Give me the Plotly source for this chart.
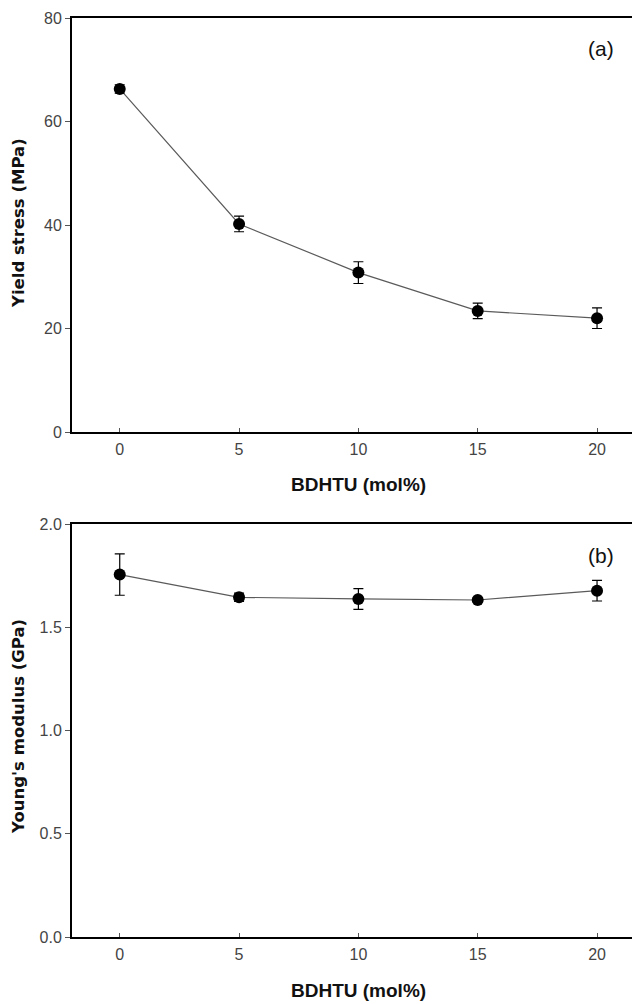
import plotly.graph_objects as go

bdhtu = [0, 5, 10, 15, 20]
yield_stress = [66.3, 40.2, 30.8, 23.4, 22.0]
yield_err = [0.8, 1.5, 2.1, 1.5, 2.0]
youngs = [1.755, 1.645, 1.637, 1.632, 1.677]
youngs_err = [0.10, 0.02, 0.05, 0.01, 0.05]

x_ticks = [0, 5, 10, 15, 20]
y1_ticks = [0, 20, 40, 60, 80]
y2_ticks = [0.0, 0.5, 1.0, 1.5, 2.0]
y2_labels = ["0.0", "0.5", "1.0", "1.5", "2.0"]

# page has an 8px body margin; size the figure to fit the 640x1004 window
OFF = 8
W, H = 640 - OFF, 1004 - OFF
L = 72 - OFF
PW = W - L

def py(screen_y):
    return (H - (screen_y - OFF)) / H

def px(screen_x):
    return (screen_x - 72) / PW

fig = go.Figure()

tickfont = dict(family="Liberation Sans, Arial", size=16, color="#444444")
xtitlefont = dict(family="Liberation Sans, Arial", size=19, color="#111111")
ytitlefont = dict(family="DejaVu Sans, Liberation Sans, Arial", size=16.5, color="#111111")

def add_series(y, err, xa, ya):
    fig.add_trace(go.Scatter(
        x=bdhtu, y=y, xaxis=xa, yaxis=ya, mode="lines+markers",
        line=dict(color="#5a5a5a", width=1.2),
        marker=dict(color="black", size=12),
        error_y=dict(type="data", array=err, visible=True, color="black", thickness=1.2, width=5),
        showlegend=False,
    ))

add_series(yield_stress, yield_err, "x", "y")
add_series(youngs, youngs_err, "x2", "y2")

dom_a = [py(432), py(18)]
dom_b = [py(937), py(524)]

xcommon = dict(range=[-2, 21.8], tickvals=x_ticks, ticks="inside", ticklen=4, tickwidth=1,
               tickcolor="#555555", showline=True, linecolor="black", linewidth=2, mirror=True,
               showgrid=False, zeroline=False, tickfont=tickfont, domain=[0, 1],
               ticklabelstandoff=2)
ycommon = dict(ticks="outside", ticklen=5, tickwidth=1, tickcolor="#555555", showline=True,
               linecolor="black", linewidth=2, mirror=False, showgrid=False, zeroline=False,
               tickfont=tickfont, ticklabelstandoff=0)

fig.update_layout(
    width=W, height=H,
    margin=dict(l=L, r=0, t=0, b=0, autoexpand=False),
    paper_bgcolor="white", plot_bgcolor="white",
    xaxis=dict(xcommon, anchor="y"),
    yaxis=dict(ycommon, range=[0, 80], tickvals=y1_ticks, domain=dom_a, anchor="x"),
    xaxis2=dict(xcommon, anchor="y2"),
    yaxis2=dict(ycommon, range=[0, 2.0], tickvals=y2_ticks, ticktext=y2_labels, domain=dom_b, anchor="x2"),
)

for yy in (485, 990):
    fig.add_annotation(xref="paper", yref="paper", x=px(358), y=py(yy),
                       text="<b>BDHTU (mol%)</b>", showarrow=False,
                       xanchor="center", yanchor="middle", font=xtitlefont)

fig.add_annotation(xref="paper", yref="paper", x=px(18), y=py(223),
                   text="<b>Yield stress (MPa)</b>", textangle=-90, showarrow=False,
                   xanchor="center", yanchor="middle", font=ytitlefont)
fig.add_annotation(xref="paper", yref="paper", x=px(18), y=py(727),
                   text="<b>Young's modulus (GPa)</b>", textangle=-90, showarrow=False,
                   xanchor="center", yanchor="middle", font=ytitlefont)

labfont = dict(family="Liberation Sans, Arial", size=21, color="#111111")
fig.add_annotation(xref="paper", yref="paper", x=px(601), y=py(48),
                   text="(a)", showarrow=False, xanchor="center", yanchor="middle", font=labfont)
fig.add_annotation(xref="paper", yref="paper", x=px(601), y=py(555),
                   text="(b)", showarrow=False, xanchor="center", yanchor="middle", font=labfont)

fig.write_html("out.html")
